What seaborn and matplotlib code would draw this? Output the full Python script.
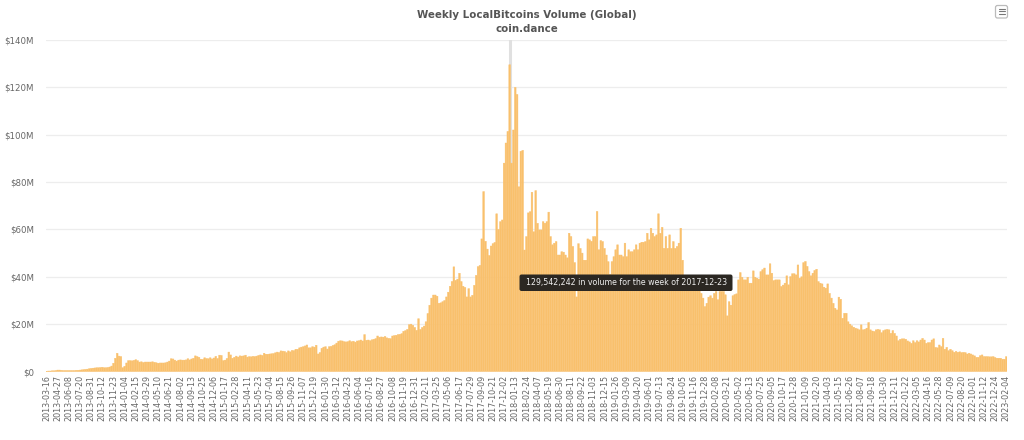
import matplotlib
matplotlib.use("Agg")
import matplotlib.pyplot as plt
from matplotlib.patches import FancyBboxPatch
from matplotlib.transforms import Affine2D
import pandas as pd
import seaborn as sns

# Weekly volume in millions of USD
vol_2013 = [0.1,0.2,0.2,0.3,0.3,0.4, 0.6,0.6,0.5,0.4,0.4,0.4, 0.4,0.4,0.4,0.4,0.5,0.5,
            0.6,0.7,0.8,0.9,1.0,1.2, 1.3,1.4,1.5,1.6,1.6,1.7, 1.8,1.6,1.6,1.7,1.9,2.3,
            3.5,5.6,7.7,6.5,6.3,1.6]
vol_2014 = [2.2,3.6,4.6,4.6,4.5,4.7, 5.0,4.6,4.0,4.1,3.8,4.0, 4.0,4.0,4.0,4.1,3.9,3.7,
            3.5,3.6,3.6,3.6,3.7,4.0, 4.4,5.4,5.3,4.8,4.4,4.8, 4.9,4.8,4.8,4.9,5.4,4.9,
            5.3,5.6,6.6,6.3,6.0,5.2, 5.1,5.8,5.5,5.4,5.8,5.3, 5.7,6.4,5.5,6.9,6.8,4.6]
vol_2015 = [4.8,5.5,8.2,7.0,5.6,6.0, 6.5,6.1,6.6,6.5,6.6,6.9, 6.1,6.3,6.2,6.4,6.3,6.5,
            6.8,7.0,6.8,7.7,7.3,7.3, 7.4,7.5,7.6,7.9,8.2,8.0, 8.7,8.6,8.5,8.0,8.7,8.3,
            8.9,8.8,9.4,9.4,10.0,10.3, 10.5,10.8,11.2,10.0,10.0,10.5, 10.3,11.1,7.4,8.0,9.8,10.3]
vol_2016 = [10.5,9.5,10.5,10.6,11.0,11.3, 12.0,12.8,13.0,12.9,12.6,12.5, 12.6,13.0,12.6,12.8,12.4,12.9,
            13.0,13.3,12.9,15.6,13.2,13.3, 13.0,13.4,13.6,13.9,15.0,14.5, 14.6,14.5,14.8,14.2,14.0,13.9,
            15.0,15.2,15.3,15.6,15.7,16.0, 17.0,17.3,17.8,19.8,20.0,19.5, 18.6,17.4,22.3,17.8,18.6,19.2]
vol_2017 = [21,24.5,28,31,32.3,32.3, 31.8,28.8,29,29.5,30,31.5, 33.5,36,38,44.2,38.5,39,
            41.5,38,36,35.5,31.5,35, 31.5,32.2,36.4,40.6,44.3,44.8, 56,76,55,51.7,49,53,
            54,54.5,66.6,60,63.3,64, 88,96.5,101.4,129.542242,88,102]
vol_2018 = [120,117,78,93,93.4,51.3, 57,67,67.5,75.7,59,76.4, 62.6,59.8,59.8,63.3,62.6,63.3,
            67.3,57,53.5,54.2,54.9,49.2, 49.2,50.6,50.4,49.2,48,58.4, 57,52.8,46,31.5,54,52,
            50,47,47,56,55.6,55, 57,57,67.6,51.4,55.3,54.9, 52,49.2,46.4,41,46.4,48.5]
vol_2019 = [51.4,53.5,49.2,49.2,48.5,54.2, 48.5,51.4,50.6,50.6,51.4,53.5, 51.4,54.2,54.6,54.6,54.9,58.4,
            55.6,60.5,58.4,57,57.7,66.6, 58.4,60.9,52,57,52,57.7, 52,54.9,52,52.8,54.2,60.5,
            47,40,38,37,37,36, 36,36,35,34,33,31, 27.4,28.8,31.4,32,31,33]
vol_2020 = [33.8,30.3,33.8,33.8,33.8,32.4, 23.5,29.5,28,32,32.5,32.8, 38.7,41.8,39.8,38.7,38.7,39.8,
            37.3,37.3,42.5,39.8,39.4,39, 42.2,43,43.7,40.8,40.8,45.5, 41.5,38.4,38.7,38.7,38.7,35.9,
            36.5,37.3,40.4,36.6,40.1,41.3, 41.3,40.8,45,39.4,40,46, 46.5,44.4,42.2,40.4,41.5,42.7]
vol_2021 = [43.2,38,37.3,37,35.6,35.2, 37,33,31,28.8,26.7,26, 31.4,30.5,22.5,24.6,24.6,21,
            20,19.3,18.7,18.3,18,17.6, 19.7,17.6,17.8,18.3,20.7,17.6, 17.1,16.9,17.6,17.8,17.6,16.4,
            17.3,17.6,17.8,17.6,16.1,17.3, 16.1,15,13,13.6,13.8,13.8]
vol_2022 = [13.6,12.9,12.5,11.9,13,12.2, 13,12.5,13.3,14,13.3,11.9, 12.2,12.2,13.3,13.8,10.2,10,
            11.2,10.5,14,9.4,10.2,8.8, 9.4,8.8,8.1,8.5,8.1,8.3, 8,8.1,8,7.4,7.7,7.4,
            7,6.6,6,6,6.7,7, 6.3,6.3,6.3,6.2,6.2,6.3]
vol_2023 = [5.9,5.6,5.6,5.6,5.2,5.2, 6.3]

first_week = "2013-03-16"
title = "Weekly LocalBitcoins Volume (Global)"
subtitle = "coin.dance"
tooltip = "129,542,242 in volume for the week of 2017-12-23"
y_ticks = [0, 20, 40, 60, 80, 100, 120, 140]

volumes = (vol_2013 + vol_2014 + vol_2015 + vol_2016 + vol_2017 + vol_2018
           + vol_2019 + vol_2020 + vol_2021 + vol_2022 + vol_2023)
weeks = pd.date_range(first_week, periods=len(volumes), freq="7D").strftime("%Y-%m-%d")
df = pd.DataFrame({"week": weeks, "volume": volumes})

W, H = 1024, 440
sns.set_theme(style="white")
plt.rcParams["font.family"] = ["DejaVu Sans"]
fig = plt.figure(figsize=(W / 100, H / 100), dpi=100, facecolor="white")
left, right, top, bottom = 45.6, 1007.2, 40.0, 371.5
ax = fig.add_axes([left / W, 1 - bottom / H, (right - left) / W, (bottom - top) / H])

sns.barplot(data=df, x="week", y="volume", color="#F9C06C", saturation=1,
            width=0.9, ax=ax, zorder=3, edgecolor="#F9C06C", linewidth=0.3)
for bar in ax.patches:
    bar.set_snap(False)

peak = df["volume"].idxmax()
ax.axvline(peak, color="#E0E0E0", linewidth=2.2, zorder=2)

ax.set_xlim(-0.5, len(df) - 0.5)
ax.set_ylim(0, 140)
ax.set_xlabel("")
ax.set_ylabel("")
ax.set_yticks(y_ticks)
ax.set_yticklabels(["$0" if v == 0 else f"${v}M" for v in y_ticks])
tick_pos = list(range(0, len(df), 6))
ax.set_xticks(tick_pos)
ax.set_xticklabels([weeks[i] for i in tick_pos], rotation=90)
ax.tick_params(axis="x", labelsize=5.8, labelcolor="#666666", length=0, pad=2.5)
ax.tick_params(axis="y", labelsize=6.2, labelcolor="#666666", length=0, pad=8.3)
ax.grid(axis="y", color="#EDEDED", linewidth=0.9)
ax.grid(axis="x", visible=False)
ax.set_axisbelow(True)
for s in ax.spines.values():
    s.set_visible(False)

fig.text(526.5 / W, 1 - 15.5 / H, title, ha="center", va="center",
         fontsize=7.4, fontweight="bold", color="#555555")
fig.text(526.5 / W, 1 - 28.5 / H, subtitle, ha="center", va="center",
         fontsize=7.4, fontweight="bold", color="#555555")

# Tooltip
px = Affine2D().scale(1, -1).translate(0, H)
box = FancyBboxPatch((519.5, 274.5), 213, 16.5, boxstyle="round,pad=0,rounding_size=2",
                     facecolor="#2B2722", edgecolor="none", zorder=10)
box.set_transform(px)
fig.add_artist(box)
fig.text(626.5 / W, 1 - 283 / H, tooltip, ha="center", va="center", fontsize=5.65,
         color="#EFEFEF", zorder=11)

# Menu icon
icon = FancyBboxPatch((995.5, 5.5), 12, 12.5, boxstyle="round,pad=0,rounding_size=2",
                      facecolor="white", edgecolor="#BBBBBB", linewidth=0.9)
icon.set_transform(px)
fig.add_artist(icon)
for yy in (9, 11.5, 14):
    fig.add_artist(plt.Line2D([998.5 / W, 1004.5 / W], [1 - yy / H, 1 - yy / H],
                              color="#777777", linewidth=0.8))

fig.savefig("out.png", dpi=100)
